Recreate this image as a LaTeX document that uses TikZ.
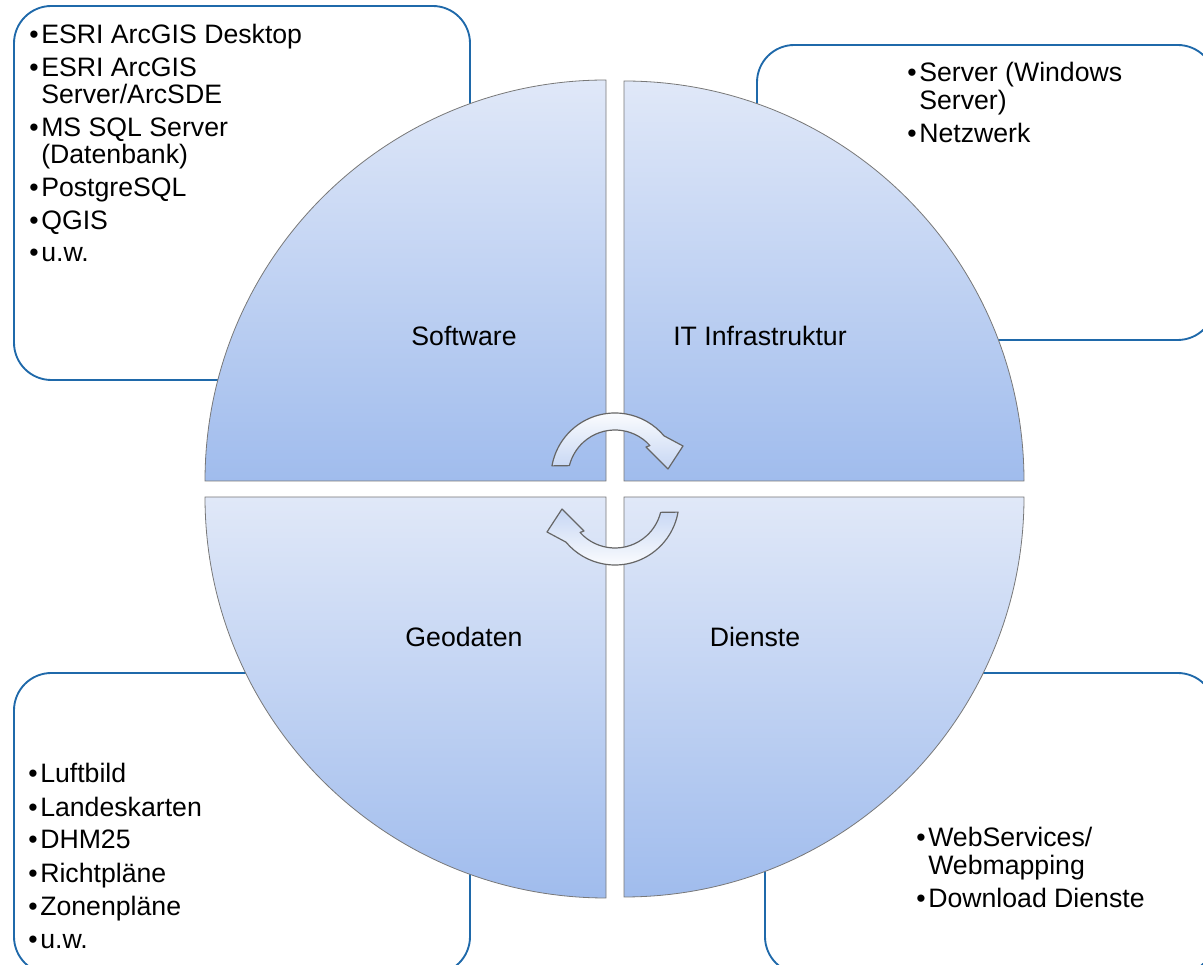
\documentclass[tikz,border=0pt]{standalone}
\usepackage{fontspec}
\setmainfont{Liberation Sans}
\definecolor{boxblue}{RGB}{31,105,170}
\definecolor{quadtop}{RGB}{224,232,248}
\definecolor{quadbot}{RGB}{160,188,237}
\definecolor{rimgray}{RGB}{120,120,120}
\tikzset{
  infobox/.style={draw=boxblue, line width=1.4pt, fill=white, rounded corners=28pt},
  quad/.style={draw=rimgray, line width=0.6pt, top color=quadtop, bottom color=quadbot},
  cyclearrow/.style={draw=rimgray!85!black, line width=0.9pt, top color=white, bottom color=quadtop!60!quadbot, line join=round},
  lbl/.style={font=\fontsize{20}{20}\selectfont, inner sep=0pt},
  itemlist/.style={font=\fontsize{20}{20}\selectfont, inner sep=0pt, anchor=base west}
}
\newcommand{\bitem}{\textbullet &}

\begin{document}
\begin{tikzpicture}[x=0.75pt, y=0.75pt]
\useasboundingbox (0,0) rectangle (1203,964);
% Boxes behind the circle
\draw[infobox] (14,584) rectangle (470,958);
\draw[infobox] (757,624) rectangle (1215,919);
\draw[infobox] (14,-10) rectangle (470,291);
\draw[infobox] (765,-10) rectangle (1215,291);
% Quarter pieces
\draw[quad] (606,483) -- ++(-401,0) arc[start angle=180, end angle=90, radius=401] -- cycle;
\draw[quad] (624,483) -- ++(0,400) arc[start angle=90, end angle=0, radius=400] -- cycle;
\draw[quad] (606,467) -- ++(0,-401) arc[start angle=270, end angle=180, radius=401] -- cycle;
\draw[quad] (624,467) -- ++(400,0) arc[start angle=0, end angle=-90, radius=400] -- cycle;
% Cycle arrows
\begin{scope}[shift={(615,487)}]
\draw[cyclearrow] (170:64) arc[start angle=170, end angle=40, radius=64] -- (68,31) -- (53,8) -- (31,30) -- (42:47) arc[start angle=42, end angle=166, radius=47] -- cycle;
\end{scope}
\begin{scope}[shift={(615,463)}, rotate=180]
\draw[cyclearrow, shading angle=180] (170:64) arc[start angle=170, end angle=40, radius=64] -- (68,31) -- (53,8) -- (31,30) -- (42:47) arc[start angle=42, end angle=166, radius=47] -- cycle;
\end{scope}
% Labels
\node[lbl] (software) at (464,628) {Software};
\node[lbl] (infra) at (760,628) {IT Infrastruktur};
\node[lbl] (geodaten) at (464,327) {Geodaten};
\node[lbl] (dienste) at (755,327) {Dienste};
% Lists
\node[itemlist] (softlist) at (29,920) {\begin{tabular}[t]{@{}l@{\hspace{2pt}}l@{}}
\bitem ESRI ArcGIS Desktop\\[4.5pt]
\bitem ESRI ArcGIS\\ & Server/ArcSDE\\[4.5pt]
\bitem MS SQL Server\\ & (Datenbank)\\[4.5pt]
\bitem PostgreSQL\\[4.5pt]
\bitem QGIS\\[4.5pt]
\bitem u.w.
\end{tabular}};
\node[itemlist] (infralist) at (907,882) {\begin{tabular}[t]{@{}l@{\hspace{2pt}}l@{}}
\bitem Server (Windows\\ & Server)\\[4.5pt]
\bitem Netzwerk
\end{tabular}};
\node[itemlist] (geolist) at (28,181) {\begin{tabular}[t]{@{}l@{\hspace{2pt}}l@{}}
\bitem Luftbild\\[4.5pt]
\bitem Landeskarten\\[4.5pt]
\bitem DHM25\\[4.5pt]
\bitem Richtpläne\\[4.5pt]
\bitem Zonenpläne\\[4.5pt]
\bitem u.w.
\end{tabular}};
\node[itemlist] (dienstlist) at (916,117) {\begin{tabular}[t]{@{}l@{\hspace{2pt}}l@{}}
\bitem WebServices/\\ & Webmapping\\[4.5pt]
\bitem Download Dienste
\end{tabular}};
\end{tikzpicture}
\end{document}
